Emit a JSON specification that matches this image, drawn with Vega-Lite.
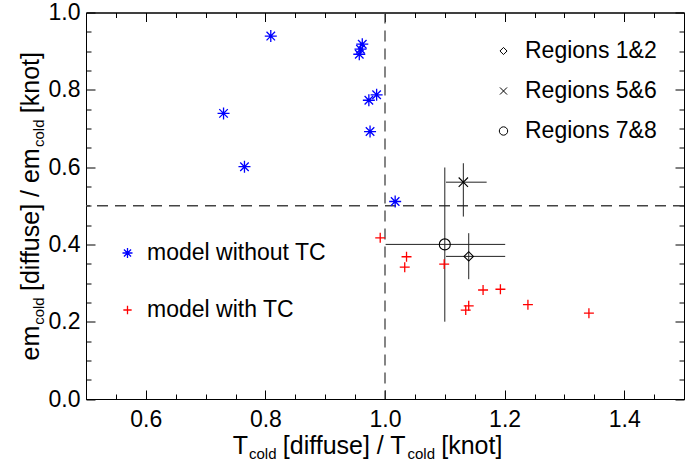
{
  "$schema": "https://vega.github.io/schema/vega-lite/v6.json",
  "width": 598,
  "height": 386.5,
  "autosize": "none",
  "padding": {"left": 86, "top": 12.5, "right": 1, "bottom": 61},
  "background": "white",
  "config": {
    "font": "Liberation Sans",
    "view": {"stroke": "black", "strokeWidth": 1},
    "axis": {"domainColor": "black", "tickColor": "black", "labelColor": "black", "titleColor": "black", "labelFont": "Liberation Sans", "labelFontSize": 23, "titleFont": "Liberation Sans", "titleFontWeight": "normal", "grid": false, "labelOverlap": false, "labelFlush": false, "tickWidth": 1, "domainWidth": 1},
    "legend": {"labelFont": "Liberation Sans", "labelColor": "black", "labelLimit": 400}
  },
  "datasets": {
    "models": [
      {"model": "model without TC", "t_ratio": 0.809, "em_ratio": 0.939},
      {"model": "model without TC", "t_ratio": 0.730, "em_ratio": 0.739},
      {"model": "model without TC", "t_ratio": 0.765, "em_ratio": 0.601},
      {"model": "model without TC", "t_ratio": 0.962, "em_ratio": 0.918},
      {"model": "model without TC", "t_ratio": 0.959, "em_ratio": 0.905},
      {"model": "model without TC", "t_ratio": 0.957, "em_ratio": 0.892},
      {"model": "model without TC", "t_ratio": 0.986, "em_ratio": 0.787},
      {"model": "model without TC", "t_ratio": 0.973, "em_ratio": 0.773},
      {"model": "model without TC", "t_ratio": 0.975, "em_ratio": 0.692},
      {"model": "model without TC", "t_ratio": 1.017, "em_ratio": 0.511},
      {"model": "model with TC", "t_ratio": 0.992, "em_ratio": 0.417},
      {"model": "model with TC", "t_ratio": 1.036, "em_ratio": 0.368},
      {"model": "model with TC", "t_ratio": 1.033, "em_ratio": 0.341},
      {"model": "model with TC", "t_ratio": 1.099, "em_ratio": 0.349},
      {"model": "model with TC", "t_ratio": 1.164, "em_ratio": 0.282},
      {"model": "model with TC", "t_ratio": 1.193, "em_ratio": 0.284},
      {"model": "model with TC", "t_ratio": 1.140, "em_ratio": 0.241},
      {"model": "model with TC", "t_ratio": 1.135, "em_ratio": 0.230},
      {"model": "model with TC", "t_ratio": 1.239, "em_ratio": 0.244},
      {"model": "model with TC", "t_ratio": 1.341, "em_ratio": 0.222}
    ],
    "regions": [
      {"region": "Regions 1&2", "t_ratio": 1.140, "em_ratio": 0.369, "t_lo": 1.102, "t_hi": 1.201, "em_lo": 0.310, "em_hi": 0.429},
      {"region": "Regions 5&6", "t_ratio": 1.131, "em_ratio": 0.561, "t_lo": 1.102, "t_hi": 1.170, "em_lo": 0.472, "em_hi": 0.610},
      {"region": "Regions 7&8", "t_ratio": 1.100, "em_ratio": 0.400, "t_lo": 1.001, "t_hi": 1.201, "em_lo": 0.200, "em_hi": 0.599}
    ],
    "refs": [{"t_ref": 1.0, "em_ref": 0.5}]
  },
  "layer": [
    {
      "data": {"name": "refs"},
      "mark": {"type": "rule", "strokeDash": [11, 7], "color": "#444444", "strokeWidth": 1.3},
      "encoding": {
        "x": {"field": "t_ref", "type": "quantitative", "scale": {"domain": [0.5, 1.5], "nice": false, "zero": false},
              "axis": {"orient": "bottom", "values": [0.5,0.55,0.65,0.7,0.75,0.85,0.9,0.95,1.05,1.1,1.15,1.25,1.3,1.35,1.45,1.5], "tickSize": -5, "labels": false, "domain": false, "title": null}}
      }
    },
    {
      "data": {"name": "refs"},
      "mark": {"type": "rule", "strokeDash": [11, 7], "color": "#444444", "strokeWidth": 1.3},
      "encoding": {
        "y": {"field": "em_ref", "type": "quantitative", "scale": {"domain": [0, 1], "nice": false, "zero": false},
              "axis": {"orient": "left", "values": [0.05,0.1,0.15,0.25,0.3,0.35,0.45,0.5,0.55,0.65,0.7,0.75,0.85,0.9,0.95], "tickSize": -5, "labels": false, "domain": false, "title": null}}
      }
    },
    {
      "data": {"name": "regions"},
      "mark": {"type": "rule", "color": "#222222", "strokeWidth": 1},
      "encoding": {
        "x": {"field": "t_lo", "type": "quantitative", "scale": {"domain": [0.5, 1.5], "nice": false, "zero": false},
              "axis": {"orient": "bottom", "ticks": false, "labels": false, "domain": false, "title": "cold", "titleFontSize": 15, "titleX": 162.5, "titleY": 59, "titleAlign": "left", "titleBaseline": "alphabetic"}},
        "x2": {"field": "t_hi"},
        "y": {"field": "em_ratio", "type": "quantitative", "scale": {"domain": [0, 1], "nice": false, "zero": false},
              "axis": {"orient": "left", "ticks": false, "labels": false, "domain": false, "title": "cold", "titleFontSize": 15, "titleAngle": 270, "titleX": -43, "titleY": 311.8, "titleAlign": "left", "titleBaseline": "alphabetic"}}
      }
    },
    {
      "data": {"name": "regions"},
      "mark": {"type": "rule", "color": "#222222", "strokeWidth": 1},
      "encoding": {
        "x": {"field": "t_ratio", "type": "quantitative", "scale": {"domain": [0.5, 1.5], "nice": false, "zero": false},
              "axis": {"orient": "bottom", "ticks": false, "labels": false, "domain": false, "title": "cold", "titleFontSize": 15, "titleX": 321, "titleY": 59, "titleAlign": "left", "titleBaseline": "alphabetic"}},
        "y": {"field": "em_lo", "type": "quantitative", "scale": {"domain": [0, 1], "nice": false, "zero": false},
              "axis": {"orient": "left", "ticks": false, "labels": false, "domain": false, "title": "cold", "titleFontSize": 15, "titleAngle": 270, "titleX": -43, "titleY": 134, "titleAlign": "left", "titleBaseline": "alphabetic"}},
        "y2": {"field": "em_hi"}
      }
    },
    {
      "data": {"name": "regions"},
      "mark": {"type": "point", "opacity": 0, "size": 1},
      "encoding": {
        "x": {"field": "t_ratio", "type": "quantitative", "scale": {"domain": [0.5, 1.5], "nice": false, "zero": false},
              "axis": {"orient": "bottom", "ticks": false, "labels": false, "domain": false, "title": "[diffuse] / T", "titleFontSize": 25, "titleX": 196.3, "titleY": 54, "titleAlign": "left", "titleBaseline": "alphabetic"}},
        "y": {"field": "em_ratio", "type": "quantitative", "scale": {"domain": [0, 1], "nice": false, "zero": false},
              "axis": {"orient": "left", "ticks": false, "labels": false, "domain": false, "title": "[diffuse] / em", "titleFontSize": 25, "titleAngle": 270, "titleX": -48, "titleY": 278, "titleAlign": "left", "titleBaseline": "alphabetic"}}
      }
    },
    {
      "data": {"name": "regions"},
      "mark": {"type": "point", "opacity": 0, "size": 1},
      "encoding": {
        "x": {"field": "t_ratio", "type": "quantitative", "scale": {"domain": [0.5, 1.5], "nice": false, "zero": false},
              "axis": {"orient": "bottom", "ticks": false, "labels": false, "domain": false, "title": "[knot]", "titleFontSize": 25, "titleX": 354.7, "titleY": 54, "titleAlign": "left", "titleBaseline": "alphabetic"}},
        "y": {"field": "em_ratio", "type": "quantitative", "scale": {"domain": [0, 1], "nice": false, "zero": false},
              "axis": {"orient": "left", "ticks": false, "labels": false, "domain": false, "title": "[knot]", "titleFontSize": 25, "titleAngle": 270, "titleX": -48, "titleY": 100.2, "titleAlign": "left", "titleBaseline": "alphabetic"}}
      }
    },
    {
      "data": {"name": "regions"},
      "mark": {"type": "point", "opacity": 0, "size": 1},
      "encoding": {
        "x": {"field": "t_ratio", "type": "quantitative", "scale": {"domain": [0.5, 1.5], "nice": false, "zero": false},
              "axis": {"orient": "top", "values": [0.5,0.55,0.65,0.7,0.75,0.85,0.9,0.95,1.05,1.1,1.15,1.25,1.3,1.35,1.45,1.5], "tickSize": -5, "labels": false, "domain": false, "title": null}},
        "y": {"field": "em_ratio", "type": "quantitative", "scale": {"domain": [0, 1], "nice": false, "zero": false},
              "axis": {"orient": "right", "values": [0.05,0.1,0.15,0.25,0.3,0.35,0.45,0.5,0.55,0.65,0.7,0.75,0.85,0.9,0.95], "tickSize": -5, "labels": false, "domain": false, "title": null}}
      }
    },
    {
      "data": {"name": "regions"},
      "mark": {"type": "point", "filled": false, "color": "black", "strokeWidth": 1.1, "size": 121, "opacity": 1},
      "encoding": {
        "x": {"field": "t_ratio", "type": "quantitative", "scale": {"domain": [0.5, 1.5], "nice": false, "zero": false},
              "axis": {"orient": "top", "values": [0.6,0.8,1.0,1.2,1.4], "tickSize": -9, "labels": false, "title": null, "domain": true}},
        "y": {"field": "em_ratio", "type": "quantitative", "scale": {"domain": [0, 1], "nice": false, "zero": false},
              "axis": {"orient": "right", "values": [0,0.2,0.4,0.6,0.8,1.0], "tickSize": -9, "labels": false, "title": null, "domain": true}},
        "shape": {"field": "region", "type": "nominal",
                  "scale": {"domain": ["Regions 1&2", "Regions 5&6", "Regions 7&8"], "range": ["M-0.85,0L0,-0.85L0.85,0L0,0.85Z", "M-0.85,-0.85L0.85,0.85M-0.85,0.85L0.85,-0.85", "circle"]},
                  "legend": {"orient": "none", "legendX": 406, "legendY": 27, "title": null, "padding": 0, "labelFontSize": 23, "labelOffset": 10, "symbolSize": 70, "symbolStrokeWidth": 1, "symbolStrokeColor": "black", "rowPadding": 16}}
      }
    },
    {
      "data": {"name": "models"},
      "mark": {"type": "point", "filled": false, "strokeWidth": 1.3, "size": 144, "opacity": 1},
      "encoding": {
        "x": {"field": "t_ratio", "type": "quantitative", "scale": {"domain": [0.5, 1.5], "nice": false, "zero": false},
              "axis": {"orient": "bottom", "values": [0.6,0.8,1.0,1.2,1.4], "tickSize": -9, "format": ".1f",
                       "labelPadding": 18,
                       "title": "T", "titleFontSize": 25, "titleX": 146.2, "titleY": 54, "titleAlign": "left", "titleBaseline": "alphabetic"}},
        "y": {"field": "em_ratio", "type": "quantitative", "scale": {"domain": [0, 1], "nice": false, "zero": false},
              "axis": {"orient": "left", "values": [0,0.2,0.4,0.6,0.8,1.0], "tickSize": -9, "format": ".1f",
                       "labelPadding": 15,
                       "title": "em", "titleFontSize": 25, "titleAngle": 270, "titleX": -48, "titleY": 347.5, "titleAlign": "left", "titleBaseline": "alphabetic"}},
        "color": {"field": "model", "type": "nominal",
                  "scale": {"domain": ["model without TC", "model with TC"], "range": ["#0000ff", "#ff0000"]},
                  "legend": {"orient": "none", "legendX": 30, "legendY": 229, "title": null, "padding": 0, "labelFontSize": 23, "labelOffset": 8, "symbolSize": 100, "symbolStrokeWidth": 1.3, "rowPadding": 33,
                             "encode": {"labels": {"update": {"fill": {"signal": "datum.label === 'model without TC' ? '#0000ff' : '#ff0000'"}}}}}},
        "shape": {"field": "model", "type": "nominal",
                  "scale": {"domain": ["model without TC", "model with TC"], "range": ["M-1,0L1,0M0,-1L0,1M-0.71,-0.71L0.71,0.71M-0.71,0.71L0.71,-0.71", "M-0.83,0L0.83,0M0,-0.83L0,0.83"]},
                  "legend": {"orient": "none", "legendX": 30, "legendY": 229, "title": null, "padding": 0, "labelFontSize": 23, "labelOffset": 8, "symbolSize": 100, "symbolStrokeWidth": 1.3, "rowPadding": 33,
                             "encode": {"labels": {"update": {"fill": {"signal": "datum.label === 'model without TC' ? '#0000ff' : '#ff0000'"}}}}}}
      }
    }
  ],
  "resolve": {
    "scale": {"shape": "independent", "color": "independent"},
    "axis": {"x": "independent", "y": "independent"},
    "legend": {"shape": "independent", "color": "independent"}
  }
}
